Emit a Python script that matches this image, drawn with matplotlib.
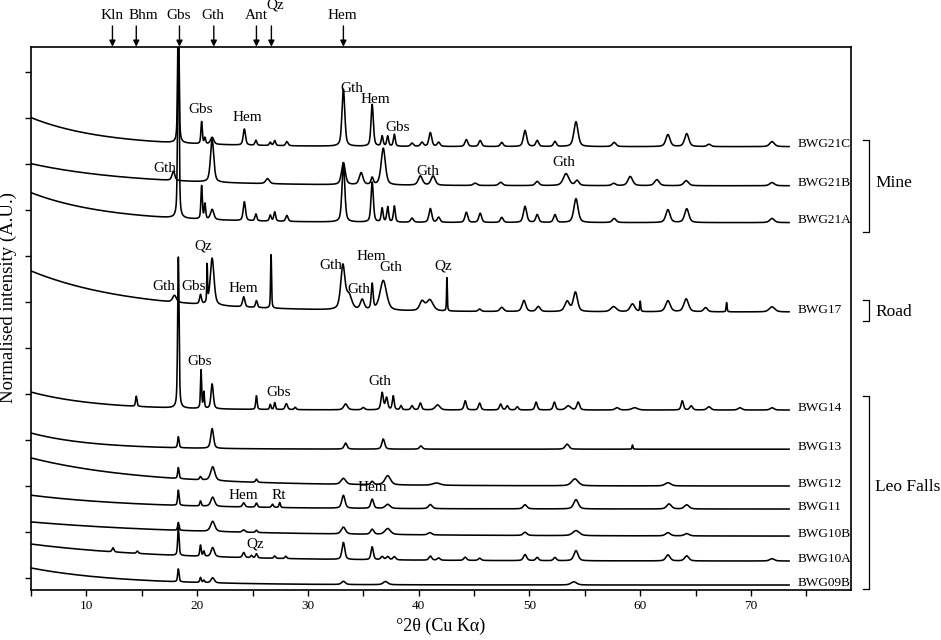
import numpy as np
import matplotlib
matplotlib.use('Agg')
import matplotlib.pyplot as plt

plt.rcParams['font.family'] = ['Liberation Serif', 'DejaVu Serif']

# sample names, top to bottom, with their background (level at the right end,
# extra height at 5 deg, decay length in deg)
samples = ['BWG21C', 'BWG21B', 'BWG21A', 'BWG17', 'BWG14', 'BWG13',
           'BWG12', 'BWG11', 'BWG10B', 'BWG10A', 'BWG09B']
offsets = [9.37, 8.52, 7.72, 5.78, 3.65, 2.80, 2.00, 1.50, 0.91, 0.37, -0.15]
bg_amp = [0.63, 0.48, 0.65, 0.89, 0.39, 0.35, 0.61, 0.30, 0.31, 0.37, 0.37]
bg_decay = [6.5, 9, 7, 9, 6, 5.5, 10, 10, 15, 12, 8]

# peaks: (2theta, height, fwhm)
bwg21c = [(18.3, 3.0, 0.15), (20.4, 0.48, 0.15), (20.7, 0.13, 0.15), (21.35, 0.15, 0.35),
          (24.26, 0.35, 0.25), (25.3, 0.11, 0.2), (26.6, 0.07, 0.2), (27.0, 0.11, 0.2),
          (28.1, 0.09, 0.25), (33.2, 1.24, 0.3), (35.8, 0.91, 0.25), (36.7, 0.22, 0.2),
          (37.2, 0.22, 0.2), (37.8, 0.26, 0.2), (39.4, 0.07, 0.3), (40.3, 0.09, 0.3),
          (41.05, 0.30, 0.3), (41.8, 0.09, 0.3), (44.3, 0.15, 0.3), (45.55, 0.13, 0.3),
          (47.5, 0.09, 0.3), (49.6, 0.35, 0.35), (50.7, 0.13, 0.3), (52.3, 0.11, 0.3),
          (54.2, 0.54, 0.45), (57.65, 0.09, 0.4), (62.5, 0.26, 0.45), (64.2, 0.28, 0.45),
          (66.2, 0.05, 0.4), (71.9, 0.11, 0.5)]
bwg21b = [(17.85, 0.2, 0.3), (21.35, 0.93, 0.35), (26.35, 0.11, 0.4), (33.2, 0.48, 0.4),
          (34.8, 0.26, 0.4), (35.8, 0.15, 0.25), (36.8, 0.80, 0.45), (40.15, 0.2, 0.45),
          (41.3, 0.2, 0.45), (45.1, 0.05, 0.4), (47.4, 0.07, 0.4), (50.7, 0.09, 0.4),
          (53.3, 0.26, 0.6), (54.3, 0.11, 0.4), (57.6, 0.05, 0.4), (59.1, 0.2, 0.5),
          (61.5, 0.13, 0.5), (64.15, 0.11, 0.5), (71.9, 0.07, 0.5)]
bwg21a = [(18.3, 4.5, 0.15), (20.4, 0.72, 0.15), (20.7, 0.33, 0.15), (21.35, 0.22, 0.35),
          (24.26, 0.41, 0.25), (25.3, 0.15, 0.2), (26.6, 0.13, 0.2), (27.0, 0.2, 0.2),
          (28.1, 0.13, 0.25), (33.2, 1.28, 0.3), (35.8, 0.87, 0.25), (36.7, 0.3, 0.2),
          (37.2, 0.33, 0.2), (37.8, 0.35, 0.2), (39.4, 0.09, 0.3), (41.05, 0.3, 0.3),
          (41.8, 0.11, 0.3), (44.3, 0.22, 0.3), (45.55, 0.2, 0.3), (47.5, 0.11, 0.3),
          (49.6, 0.35, 0.35), (50.7, 0.17, 0.3), (52.3, 0.17, 0.3), (54.2, 0.52, 0.45),
          (57.65, 0.09, 0.4), (62.5, 0.28, 0.45), (64.2, 0.3, 0.45), (71.9, 0.09, 0.5)]
bwg17 = [(17.95, 0.15, 0.4), (20.3, 0.2, 0.2), (20.9, 0.8, 0.08), (21.35, 1.02, 0.4),
         (24.2, 0.22, 0.25), (25.35, 0.15, 0.2), (26.67, 1.2, 0.1), (33.15, 0.95, 0.45),
         (33.7, 0.3, 0.6), (34.9, 0.22, 0.4), (35.8, 0.55, 0.2), (36.8, 0.65, 0.7),
         (40.3, 0.2, 0.5), (41.0, 0.24, 0.7), (42.55, 0.76, 0.08), (45.5, 0.05, 0.3),
         (47.5, 0.09, 0.4), (49.5, 0.24, 0.4), (50.8, 0.11, 0.4), (53.4, 0.22, 0.5),
         (54.15, 0.42, 0.45), (57.6, 0.11, 0.6), (59.3, 0.17, 0.5), (60.0, 0.22, 0.1),
         (62.5, 0.24, 0.5), (64.15, 0.28, 0.5), (65.9, 0.09, 0.4), (67.8, 0.2, 0.1),
         (71.9, 0.11, 0.6)]
bwg14 = [(14.5, 0.22, 0.15), (18.3, 3.28, 0.15), (20.35, 0.85, 0.12), (20.6, 0.35, 0.12),
         (21.35, 0.54, 0.25), (25.35, 0.3, 0.15), (26.6, 0.11, 0.15), (27.0, 0.15, 0.15),
         (28.05, 0.13, 0.25), (28.85, 0.05, 0.2), (33.4, 0.13, 0.4), (35.0, 0.05, 0.3),
         (36.7, 0.37, 0.25), (37.1, 0.26, 0.25), (37.7, 0.3, 0.2), (38.4, 0.09, 0.2),
         (39.4, 0.09, 0.25), (40.15, 0.15, 0.25), (41.7, 0.11, 0.5), (44.2, 0.2, 0.25),
         (45.5, 0.15, 0.25), (47.4, 0.13, 0.25), (48.0, 0.09, 0.25), (48.9, 0.07, 0.25),
         (50.6, 0.17, 0.25), (52.25, 0.17, 0.25), (53.5, 0.09, 0.5), (54.4, 0.17, 0.3),
         (57.9, 0.05, 0.4), (59.5, 0.05, 0.6), (63.8, 0.2, 0.25), (64.6, 0.09, 0.3),
         (66.2, 0.07, 0.4), (69.0, 0.05, 0.4), (71.9, 0.05, 0.4)]
bwg13 = [(18.3, 0.24, 0.15), (21.35, 0.43, 0.3), (33.4, 0.13, 0.3), (36.8, 0.22, 0.3),
         (40.2, 0.07, 0.3), (53.4, 0.11, 0.4), (59.3, 0.09, 0.1)]
bwg12 = [(18.3, 0.24, 0.15), (20.3, 0.07, 0.2), (21.4, 0.3, 0.45), (25.35, 0.07, 0.2),
         (33.2, 0.13, 0.5), (35.8, 0.07, 0.3), (37.2, 0.2, 0.6), (41.6, 0.05, 0.8),
         (54.1, 0.15, 0.7), (62.5, 0.07, 0.6)]
bwg11 = [(18.3, 0.33, 0.15), (20.3, 0.11, 0.15), (21.4, 0.2, 0.4), (24.2, 0.09, 0.25),
         (25.35, 0.09, 0.2), (26.8, 0.07, 0.2), (27.45, 0.11, 0.15), (33.2, 0.28, 0.35),
         (35.8, 0.2, 0.3), (37.2, 0.09, 0.5), (41.05, 0.09, 0.4), (49.6, 0.09, 0.4),
         (54.2, 0.2, 0.5), (62.6, 0.11, 0.5), (64.2, 0.09, 0.5)]
bwg10b = [(18.3, 0.17, 0.15), (21.4, 0.22, 0.45), (24.2, 0.05, 0.3), (25.35, 0.05, 0.2),
          (33.2, 0.15, 0.45), (35.8, 0.11, 0.35), (37.2, 0.13, 0.6), (41.0, 0.05, 0.4),
          (49.6, 0.07, 0.4), (54.2, 0.11, 0.7), (62.5, 0.07, 0.5), (64.2, 0.05, 0.5)]
bwg10a = [(12.4, 0.09, 0.2), (14.6, 0.05, 0.2), (18.3, 0.6, 0.15), (20.3, 0.24, 0.15),
          (20.6, 0.11, 0.15), (21.4, 0.2, 0.35), (24.2, 0.11, 0.25), (24.9, 0.05, 0.2),
          (25.35, 0.09, 0.2), (27.0, 0.05, 0.2), (28.0, 0.05, 0.2), (33.2, 0.37, 0.3),
          (35.8, 0.28, 0.25), (36.7, 0.07, 0.3), (37.2, 0.07, 0.3), (37.8, 0.07, 0.3),
          (41.05, 0.09, 0.3), (41.8, 0.05, 0.3), (44.2, 0.07, 0.3), (45.5, 0.05, 0.3),
          (49.6, 0.13, 0.35), (50.7, 0.07, 0.3), (52.3, 0.07, 0.3), (54.2, 0.22, 0.45),
          (62.5, 0.13, 0.45), (64.2, 0.11, 0.45), (71.9, 0.05, 0.5)]
bwg09b = [(18.3, 0.28, 0.15), (20.3, 0.11, 0.15), (20.6, 0.05, 0.15), (21.4, 0.11, 0.35),
          (33.2, 0.07, 0.4), (37.0, 0.07, 0.5), (54.0, 0.07, 0.6)]
peak_lists = [bwg21c, bwg21b, bwg21a, bwg17, bwg14, bwg13,
              bwg12, bwg11, bwg10b, bwg10a, bwg09b]

# phase labels on the patterns: (text, 2theta, y)
phase_labels = [('Gbs', 20.3, 10.17), ('Hem', 24.5, 10.0), ('Gth', 34.0, 10.63),
                ('Hem', 36.1, 10.39), ('Gbs', 38.1, 9.78),
                ('Gth', 17.1, 8.89), ('Gth', 40.8, 8.83), ('Gth', 53.1, 9.02),
                ('Qz', 20.5, 7.22), ('Gth', 17.0, 6.33), ('Gbs', 19.7, 6.33),
                ('Hem', 24.2, 6.28), ('Gth', 32.1, 6.78), ('Hem', 35.7, 6.98),
                ('Gth', 34.6, 6.26), ('Gth', 37.5, 6.74), ('Qz', 42.2, 6.78),
                ('Gbs', 20.2, 4.70), ('Gbs', 27.35, 4.04), ('Gth', 36.5, 4.26),
                ('Hem', 24.2, 1.80), ('Rt', 27.35, 1.80), ('Hem', 35.8, 1.96),
                ('Qz', 25.25, 0.74)]

# reference peak markers above the frame: name, arrow position, text position
marker_names = ['Kln', 'Bhm', 'Gbs', 'Gth', 'Ant', 'Qz', 'Hem']
marker_pos = [12.35, 14.5, 18.4, 21.5, 25.35, 26.7, 33.2]
marker_text_x = [12.35, 15.1, 18.3, 21.4, 25.3, 27.0, 33.1]

# locality groups: (name, y top, y bottom, label y)
groups = [('Mine', 9.52, 7.52, 8.59), ('Road', 6.04, 5.59, 5.78),
          ('Leo Falls', 3.96, -0.24, 1.98)]

tt = np.arange(5.0, 73.45, 0.02)


def pattern(peaks, off, amp, dec):
    y = off + amp * np.exp(-(tt - 5.0) / dec)
    for c, h, w in peaks:
        g = np.exp(-4 * np.log(2) * ((tt - c) / w) ** 2)
        l = 1.0 / (1.0 + 4 * ((tt - c) / w) ** 2)
        y = y + h * (0.5 * g + 0.5 * l)
    return y


fig = plt.figure(figsize=(9.41, 6.40), dpi=100)
ax = fig.add_axes([0.033, 0.078, 0.871, 0.849])

for name, pk, off, amp, dec in zip(samples, peak_lists, offsets, bg_amp, bg_decay):
    ax.plot(tt, pattern(pk, off, amp, dec), color='black', lw=1.15)
    ax.text(74.2, off + 0.05, name, fontsize=9.5, va='center', ha='left')

for txt, x, y in phase_labels:
    ax.text(x, y, txt, fontsize=11, ha='center', va='center')

ytop = 11.54
for name, x, tx in zip(marker_names, marker_pos, marker_text_x):
    ax.annotate('', xy=(x, ytop), xytext=(x, ytop + 0.45), annotation_clip=False,
                arrowprops=dict(arrowstyle='-|>', color='black', lw=1.0,
                                mutation_scale=9, shrinkA=0, shrinkB=0))
    ty = 12.45 if name == 'Qz' else 12.22
    ax.text(tx, ty, name, fontsize=11, ha='center', va='center', clip_on=False)

for name, y0, y1, ly in groups:
    ax.plot([80.15, 80.65, 80.65, 80.15], [y0, y0, y1, y1], color='black',
            lw=0.9, clip_on=False)
    ax.text(81.2, ly, name, fontsize=12.5, ha='left', va='center', clip_on=False)

ax.set_xlim(5, 79)
ax.set_ylim(-0.26, ytop)
ax.set_xticks(np.arange(10, 71, 10))
ax.set_xticks(np.arange(5, 79, 5), minor=True)
ax.set_yticks(np.arange(0, 12, 1))
ax.set_yticklabels([])
ax.tick_params(axis='x', which='both', direction='out', length=4, width=1,
               labelsize=9.5, pad=3)
ax.tick_params(axis='y', direction='out', length=4, width=1)
for s in ax.spines.values():
    s.set_linewidth(1.2)

ax.set_xlabel('°2θ (Cu Kα)', fontsize=13)
ax.xaxis.set_label_coords(0.5, -0.05)
ax.set_ylabel('Normalised intensity (A.U.)', fontsize=13.5)
ax.yaxis.set_label_coords(-0.017, 0.538)

fig.savefig('out.png', dpi=100)
